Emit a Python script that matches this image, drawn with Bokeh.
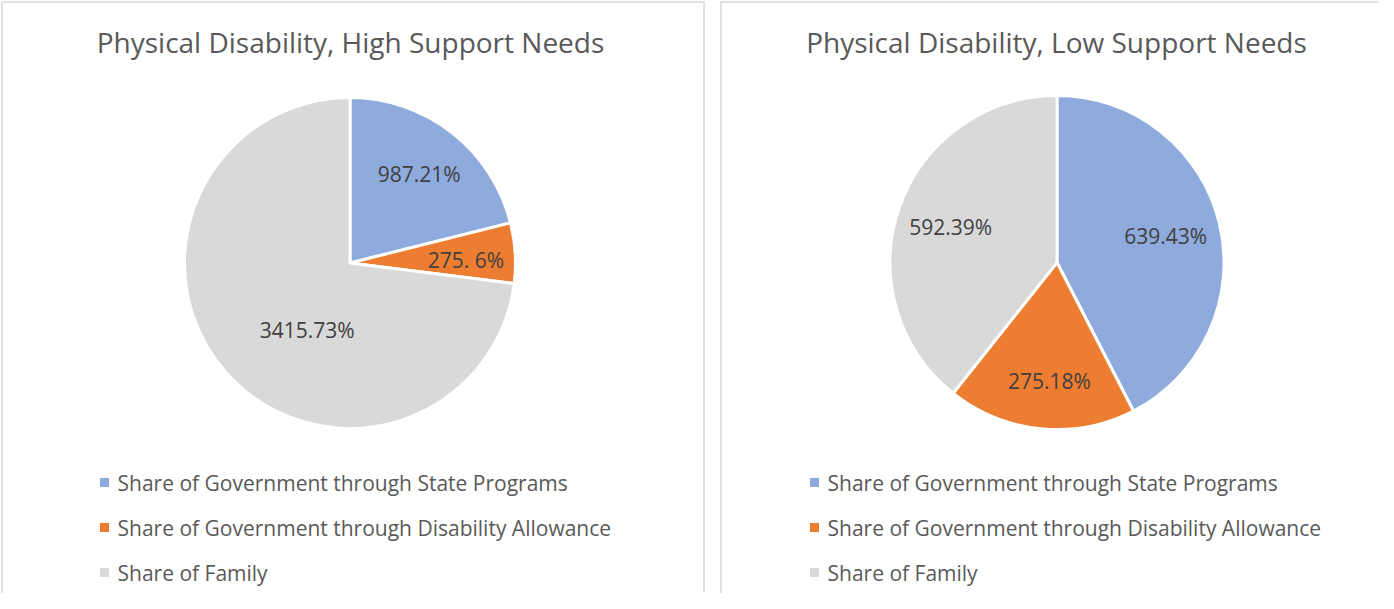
import math
from bokeh.plotting import figure
from bokeh.models import Range1d, ColumnDataSource
from bokeh.core.properties import value
from bokeh.embed import file_html
from bokeh.resources import INLINE

# ---- data ----
titles = ["Physical Disability, High Support Needs", "Physical Disability, Low Support Needs"]
categories = ["Share of Government through State Programs",
              "Share of Government through Disability Allowance",
              "Share of Family"]
values_high = [987.21, 275.06, 3415.73]
labels_high = ["987.21%", "275. 6%", "3415.73%"]
values_low = [639.43, 275.18, 592.39]
labels_low = ["639.43%", "275.18%", "592.39%"]
colors = ["#8faadc", "#ed7d31", "#d9d9d9"]

FONT = "Open Sans"

p = figure(width=1378, height=593, output_backend="svg", toolbar_location=None,
           x_range=Range1d(8, 1386), y_range=Range1d(601, 8), min_border=0)
p.axis.visible = False
p.grid.visible = False
p.outline_line_color = None
p.background_fill_color = "white"

# panel borders
p.multi_line(xs=[[9.5, 9.5, 711.5, 711.5], [728.5, 728.5, 1390]],
             ys=[[601, 9.5, 9.5, 601], [601, 9.5, 9.5]],
             line_color="#d9d9d9", line_width=1.5)

panels = [
    dict(title=titles[0], vals=values_high, labs=labels_high, cx=357.5, cy=270.5, r=165.5,
         tx=358, lx=108, shifts=[(0.68, 0), (0.70, -2), (0.48, 16)]),
    dict(title=titles[1], vals=values_low, labs=labels_low, cx=1064.5, cy=270, r=167,
         tx=1064, lx=818, shifts=[(0.67, 0), (0.71, 2), (0.67, 1)]),
]

for pn in panels:
    total = sum(pn["vals"])
    starts, ends, lxs, lys = [], [], [], []
    a = math.pi / 2
    for v, (frac, dshift) in zip(pn["vals"], pn["shifts"]):
        sweep = 2 * math.pi * v / total
        starts.append(a)
        ends.append(a - sweep)
        mid = a - sweep / 2 + math.radians(dshift)
        lxs.append(pn["cx"] + frac * pn["r"] * math.cos(mid))
        lys.append(pn["cy"] - frac * pn["r"] * math.sin(mid))
        a -= sweep
    src = ColumnDataSource(dict(x=[pn["cx"]] * 3, y=[pn["cy"]] * 3, s=starts, e=ends,
                                c=colors, lx=lxs, ly=lys, t=pn["labs"]))
    p.wedge(x="x", y="y", radius=pn["r"], start_angle="s", end_angle="e", direction="clock",
            fill_color="c", line_color="white", line_width=3, source=src)
    p.text(x="lx", y="ly", text="t", source=src, text_font=value(FONT), text_font_size="21px",
           text_color="#404040", text_align="center", text_baseline="middle")
    # title
    p.text(x=[pn["tx"]], y=[49], text=[pn["title"]], text_font=value(FONT),
           text_font_size="28px", text_color="#595959", text_align="center",
           text_baseline="middle")
    # legend
    ly = [490, 535, 580]
    p.rect(x=[pn["lx"] + 4] * 3, y=ly, width=9, height=9, width_units="screen",
           height_units="screen", fill_color=colors, line_color=None)
    p.text(x=[pn["lx"] + 17] * 3, y=ly, text=categories, text_font=value(FONT),
           text_font_size="21px", text_color="#595959", text_align="left",
           text_baseline="middle")

open("out.html", "w").write(file_html(p, INLINE))
